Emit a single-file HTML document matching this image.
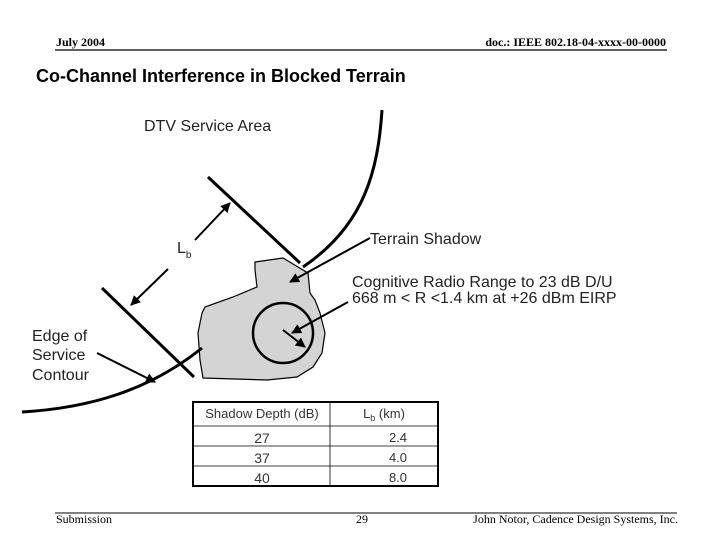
<!DOCTYPE html>
<html><head><meta charset="utf-8"><style>
body{margin:0;background:#fff}
svg{display:block}
</style></head><body>
<svg width="720" height="540" viewBox="0 0 720 540" xmlns="http://www.w3.org/2000/svg">
<defs>
<marker id="ah" viewBox="0 0 10 10" refX="9" refY="5" markerWidth="5" markerHeight="5" orient="auto"><path d="M0,0 L10,5 L0,10 z" fill="#000"/></marker>
</defs>
<g font-family="Liberation Serif, serif" font-weight="bold" font-size="12">
<text x="56" y="46">July 2004</text>
<text x="666" y="46" text-anchor="end">doc.: IEEE 802.18-04-xxxx-00-0000</text>
</g>
<line x1="55" y1="50" x2="667" y2="50" stroke="#000" stroke-width="1.2"/>
<text x="36" y="82" font-family="Liberation Sans, sans-serif" font-weight="bold" font-size="18">Co-Channel Interference in Blocked Terrain</text>
<g font-family="Liberation Sans, sans-serif" font-size="16" fill="#222">
<text x="144" y="131">DTV Service Area</text>
<text x="370" y="244">Terrain Shadow</text>
<text x="352" y="287">Cognitive Radio Range to 23 dB D/U</text>
<text x="352" y="303">668 m &lt; R &lt;1.4 km at +26 dBm EIRP</text>
<text x="32" y="341">Edge of</text>
<text x="32" y="360">Service</text>
<text x="32" y="380">Contour</text>
<text x="177" y="253">L<tspan font-size="10" dy="5">b</tspan></text>
</g>
<path d="M255,262 L283,258 L298,267 L308,273 L310,293 L315,300 L320,313 L325,333 L322,353 L313,367 L297,377 L267,380 L203,378 L200,360 L198,333 L202,313 L205,307 L233,297 L257,287 L255,270 Z" fill="#d4d4d4" stroke="#000" stroke-width="1.2"/>
<circle cx="283" cy="333" r="30" fill="none" stroke="#000" stroke-width="2.5"/>
<g stroke="#000" fill="none" stroke-width="3">
<path d="M382,110 C378,170 365,225 303,267"/>
<path d="M22,412 C90,408 150,390 202,348"/>
<line x1="208" y1="177" x2="300" y2="263"/>
<line x1="102" y1="288" x2="194" y2="377"/>
</g>
<g stroke="#000" stroke-width="2" marker-end="url(#ah)">
<line x1="195" y1="240" x2="230" y2="203"/>
<line x1="168" y1="269" x2="131" y2="305"/>
<line x1="370" y1="238" x2="290" y2="282"/>
<line x1="348" y1="302" x2="292" y2="333"/>
<line x1="283" y1="330" x2="305" y2="347"/>
<line x1="97" y1="353" x2="155" y2="382"/>
</g>
<rect x="193" y="402" width="245" height="84" fill="#fff" stroke="#000" stroke-width="2"/>
<g stroke="#000" stroke-width="0.8">
<line x1="330" y1="402" x2="330" y2="486"/>
<line x1="193" y1="426" x2="438" y2="426"/>
<line x1="193" y1="446" x2="438" y2="446"/>
<line x1="193" y1="466" x2="438" y2="466"/>
</g>
<g font-family="Liberation Sans, sans-serif" fill="#333" text-anchor="middle">
<text x="262" y="418" font-size="13">Shadow Depth (dB)</text>
<text x="384" y="418" font-size="13">L<tspan font-size="9" dy="3">b</tspan><tspan dy="-3"> (km)</tspan></text>
<text x="262" y="443" font-size="14">27</text>
<text x="262" y="463" font-size="14">37</text>
<text x="262" y="483" font-size="14">40</text>
<text x="398" y="442" font-size="13">2.4</text>
<text x="398" y="462" font-size="13">4.0</text>
<text x="398" y="482" font-size="13">8.0</text>
</g>
<line x1="55" y1="513" x2="677" y2="513" stroke="#000" stroke-width="1"/>
<g font-family="Liberation Serif, serif" font-size="12">
<text x="56" y="523">Submission</text>
<text x="362" y="523" text-anchor="middle">29</text>
<text x="678" y="523" text-anchor="end">John Notor, Cadence Design Systems, Inc.</text>
</g>
</svg>
</body></html>
